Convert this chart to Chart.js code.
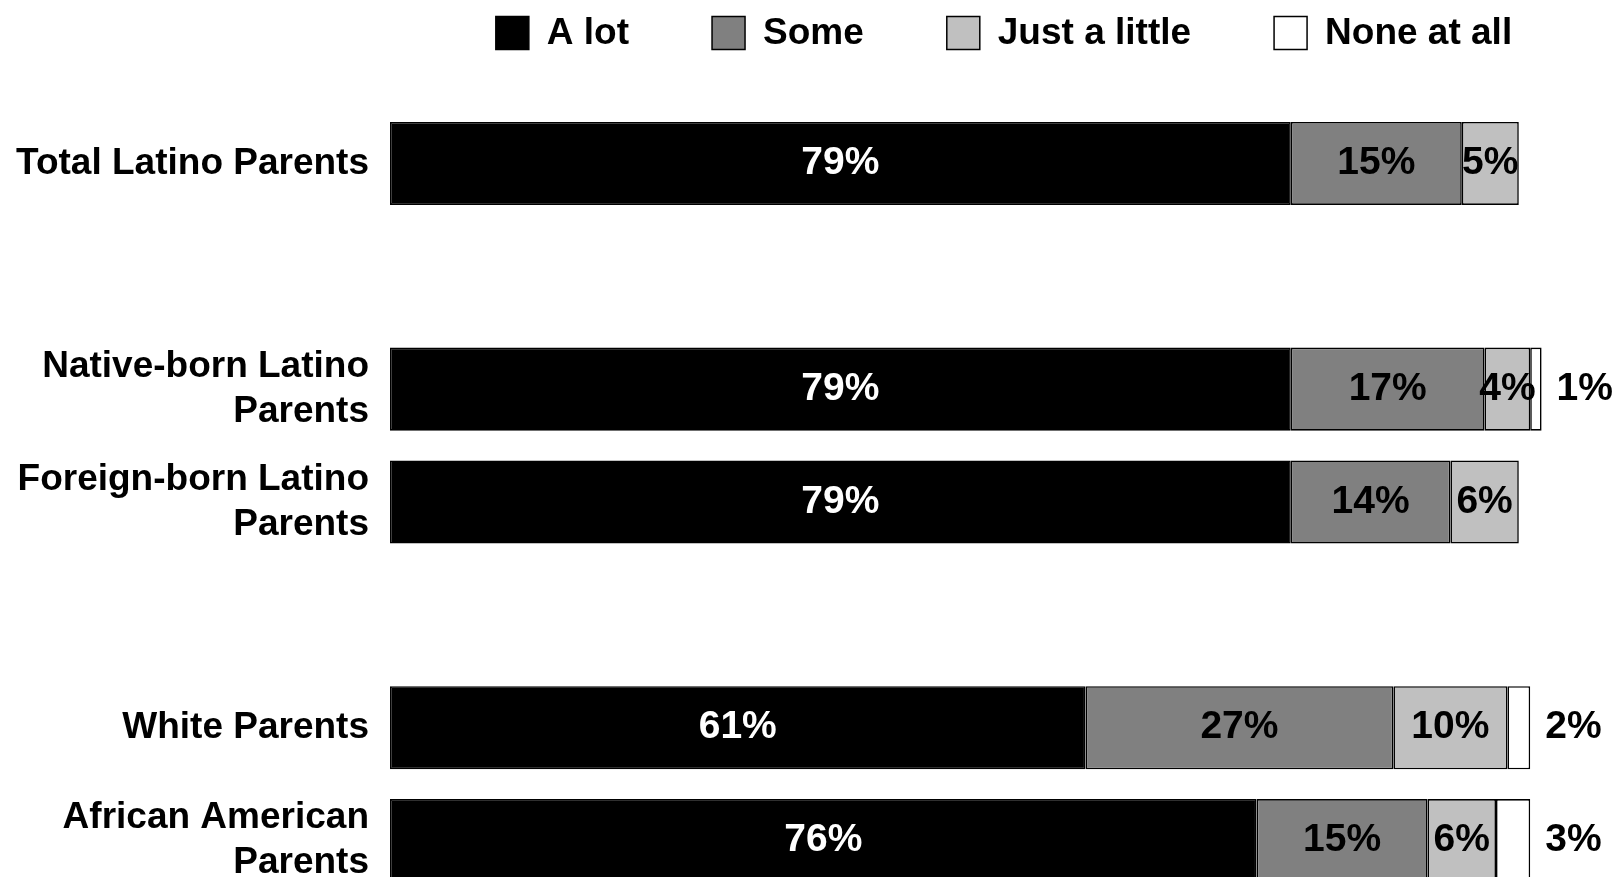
<!DOCTYPE html>
<html>
<head>
<meta charset="utf-8">
<script src="https://cdn.jsdelivr.net/npm/chart.js@4.4.0/dist/chart.umd.min.js"></script>
<style>
html, body { margin: 0; padding: 0; background: #fff; overflow: hidden; }
</style>
</head>
<body>
<canvas id="graph" width="1618" height="900"></canvas>
<script>
// rows top to bottom, empty strings are the spacer rows
const categories = [
    'Total Latino Parents',
    '',
    ['Native-born Latino', 'Parents'],
    ['Foreign-born Latino', 'Parents'],
    '',
    'White Parents',
    ['African American', 'Parents']
];
const seriesNames = ['A lot', 'Some', 'Just a little', 'None at all'];
const aLot = [79, null, 79, 79, null, 61, 76];
const some = [15, null, 17, 14, null, 27, 15];
const justALittle = [5, null, 4, 6, null, 10, 6];
const noneAtAll = [null, null, 1, null, null, 2, 3];
const colors = ['#000000', '#808080', '#c0c0c0', '#ffffff'];

const FONT = '"Liberation Sans", Arial, sans-serif';

// percent text on every segment, the tiny "none at all" ones go outside the bar
const barLabels = {
    id: 'barLabels',
    afterDatasetsDraw(chart) {
        const ctx = chart.ctx;
        ctx.save();
        ctx.font = 'bold 39px ' + FONT;
        ctx.textBaseline = 'middle';
        chart.data.datasets.forEach((ds, i) => {
            chart.getDatasetMeta(i).data.forEach((bar, j) => {
                const v = ds.data[j];
                if (v == null) return;
                if (i == 3) {
                    ctx.fillStyle = '#000';
                    ctx.textAlign = 'left';
                    ctx.fillText(v + '%', bar.x + 15, bar.y);
                } else {
                    ctx.fillStyle = i == 0 ? '#fff' : '#000';
                    ctx.textAlign = 'center';
                    ctx.fillText(v + '%', (bar.x + bar.base) / 2, bar.y);
                }
            });
        });
        ctx.restore();
    }
};

// legend centred over the plot area like the original
const topLegend = {
    id: 'topLegend',
    afterDraw(chart) {
        const ctx = chart.ctx;
        const box = 33, gap = 83, y = 33;
        ctx.save();
        ctx.font = 'bold 37px ' + FONT;
        ctx.textBaseline = 'middle';
        ctx.textAlign = 'left';
        const widths = chart.data.datasets.map(ds => box + 18 + ctx.measureText(ds.label).width);
        const total = widths.reduce((a, b) => a + b, 0) + gap * (widths.length - 1);
        let x = (chart.chartArea.left + chart.chartArea.right) / 2 - total / 2;
        chart.data.datasets.forEach((ds, i) => {
            ctx.fillStyle = ds.backgroundColor;
            ctx.fillRect(x, y - box / 2, box, box);
            ctx.lineWidth = 1.5;
            ctx.strokeStyle = '#000';
            ctx.strokeRect(x, y - box / 2, box, box);
            ctx.fillStyle = '#000';
            ctx.fillText(ds.label, x + box + 18, y + 1);
            x += widths[i] + gap;
        });
        ctx.restore();
    }
};

const values = [aLot, some, justALittle, noneAtAll];

new Chart(document.getElementById('graph'), {
    type: 'bar',
    data: {
        labels: categories,
        datasets: seriesNames.map((name, i) => ({
            label: name,
            data: values[i],
            backgroundColor: colors[i],
            borderColor: '#000',
            borderWidth: 1.6,
            borderSkipped: false,
            categoryPercentage: 1,
            barPercentage: 0.736
        }))
    },
    options: {
        indexAxis: 'y',
        responsive: false,
        animation: false,
        layout: { padding: { top: 107, left: 15, right: 0, bottom: 3 } },
        plugins: {
            legend: { display: false },
            tooltip: { enabled: false }
        },
        scales: {
            x: {
                stacked: true,
                display: false,
                min: 0,
                max: 107.7
            },
            y: {
                stacked: true,
                grid: { display: false, drawTicks: false },
                border: { display: false },
                // fixed label column, and the last label may run off the bottom as in the original
                afterFit(scale) {
                    scale.width = 375;
                    scale.paddingTop = 0;
                    scale.paddingBottom = 0;
                },
                ticks: {
                    autoSkip: false,
                    padding: 21,
                    color: '#000',
                    font: { family: FONT, size: 37, weight: 'bold', lineHeight: 1.22 }
                }
            }
        }
    },
    plugins: [barLabels, topLegend]
});
</script>
</body>
</html>
